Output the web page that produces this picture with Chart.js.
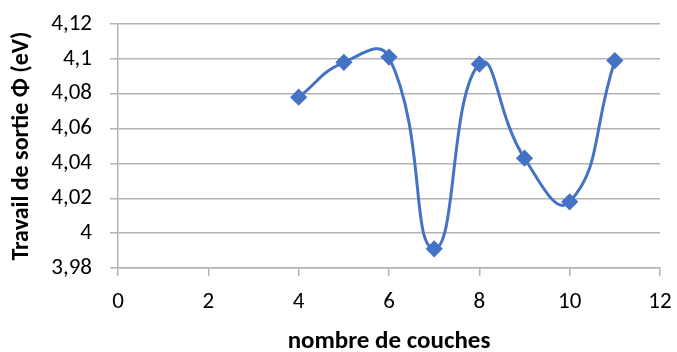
<!DOCTYPE html>
<html>
<head>
<meta charset="utf-8">
<script src="https://cdn.jsdelivr.net/npm/chart.js@4"></script>
<style>
  html, body { margin: 0; padding: 0; background: #fff; }
  #wrap { width: 677px; height: 352px; }
</style>
</head>
<body>
<div id="wrap"><canvas id="chart"></canvas></div>
<script>
// nombre de couches vs travail de sortie
const couches = [4, 5, 6, 7, 8, 9, 10, 11];
const travail = [4.078, 4.098, 4.101, 3.991, 4.097, 4.043, 4.018, 4.099];
const xTicks = [0, 2, 4, 6, 8, 10, 12];
const yTicks = [3.98, 4.00, 4.02, 4.04, 4.06, 4.08, 4.10, 4.12];

const FONT = "Carlito, Lato, 'Open Sans', sans-serif";
const BLUE = '#4472C4';
const GRID = '#b3b3b3';

const fmt = v => String(Math.round(v * 100) / 100).replace('.', ',');

new Chart(document.getElementById('chart'), {
  type: 'scatter',
  data: {
    datasets: [{
      data: couches.map((x, i) => ({ x, y: travail[i] })),
      showLine: true,
      borderColor: BLUE,
      backgroundColor: BLUE,
      borderWidth: 3,
      tension: 0.5,
      pointStyle: 'rectRot',
      pointRadius: 6.5,
      pointHoverRadius: 6.5
    }]
  },
  options: {
    responsive: true,
    maintainAspectRatio: false,
    animation: false,
    layout: { padding: { top: 24, right: 17, left: 0, bottom: 0 } },
    plugins: { legend: { display: false }, tooltip: { enabled: false } },
    scales: {
      x: {
        type: 'linear',
        min: 0, max: 12,
        afterBuildTicks: s => { s.ticks = xTicks.map(v => ({ value: v })); },
        afterFit: s => { s.height = 84; s.paddingLeft = 0; s.paddingRight = 0; },
        grid: { drawOnChartArea: false, color: GRID, lineWidth: 1.5, tickLength: 8 },
        border: { color: GRID, width: 1.5 },
        ticks: { color: '#000', font: { family: FONT, size: 23 }, padding: 12, maxRotation: 0 },
        title: { display: true, text: 'nombre de couches', color: '#000',
                 font: { family: FONT, size: 25, weight: 'bold', lineHeight: 0.8 }, padding: 0 }
      },
      y: {
        min: 3.98, max: 4.12,
        afterBuildTicks: s => { s.ticks = yTicks.map(v => ({ value: v })); },
        afterFit: s => { s.width = 118; s.paddingTop = 0; s.paddingBottom = 0; },
        grid: { color: GRID, lineWidth: 1.5, tickLength: 8 },
        border: { color: GRID, width: 1.5 },
        ticks: { color: '#000', font: { family: FONT, size: 23 }, padding: 18, callback: v => fmt(v) },
        title: { display: true, text: 'Travail de sortie Φ (eV)', color: '#000',
                 font: { family: FONT, size: 24, weight: 'bold' }, padding: { top: 8, bottom: 0 } }
      }
    }
  }
});
</script>
</body>
</html>
